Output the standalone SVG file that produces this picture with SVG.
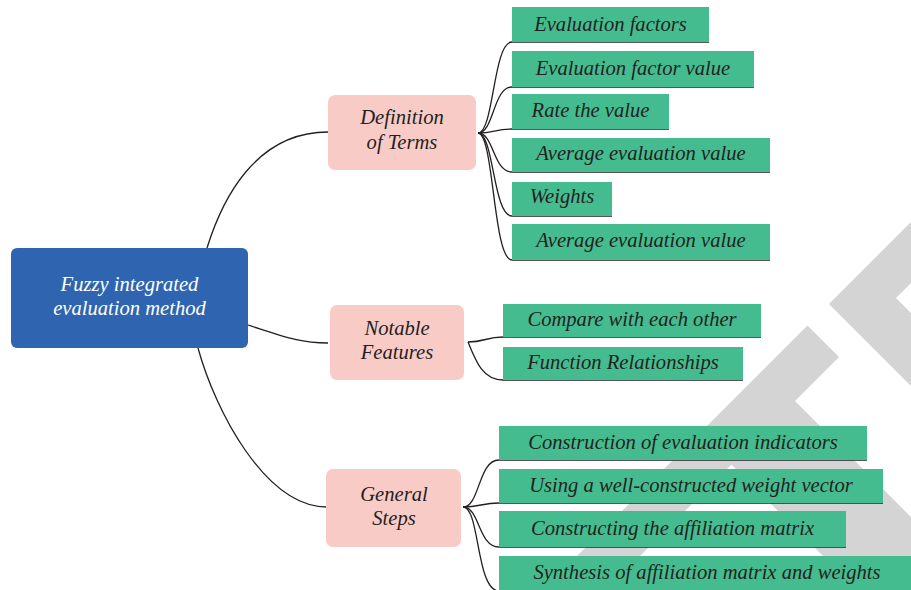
<svg xmlns="http://www.w3.org/2000/svg" width="911" height="590" viewBox="0 0 911 590">
<style>
.wm{fill:#d4d4d4}
.root{fill:#2f65b0}
.mid{fill:#f9cbc7}
.leaf{fill:#44bc8f}
.t{font-family:"Liberation Serif","DejaVu Serif",serif;font-style:italic;font-size:20.6px;fill:#231f20;text-anchor:middle}
.tw{fill:#ffffff}
#connectors path{fill:none;stroke:#231f20;stroke-width:1.3}
</style>
<rect width="911" height="590" fill="#ffffff"/>
<g id="watermark">
<polygon class="wm" points="807.5,325.5 839,357 795,401 911,517 911,590 857,590 731.5,464.5 606,590 543,590"/>
<polygon class="wm" points="911,222 829,304 911,386 911,313 896,298 911,283"/>
</g>
<g id="connectors">
<path d="M207,248 C222,200 255,132 328,132"/>
<path d="M248,325 C285,337 300,343 328,343"/>
<path d="M198,348 C215,410 265,507 327,507"/>
<path d="M478,133 C494,133 493,42 512,42 H709"/>
<path d="M478,133 C494,133 493,87 512,87 H754"/>
<path d="M478,133 C494,133 495,129 512,129 H669"/>
<path d="M478,133 C494,133 493,172 512,172 H770"/>
<path d="M478,133 C494,133 493,216 512,216 H612"/>
<path d="M478,133 C494,133 493,260 512,260 H770"/>
<path d="M468,342 C485,342 486,337 503,337 H761"/>
<path d="M468,342 C476,362 483,380 503,380 H743"/>
<path d="M463,507 C480,507 478,460 499,460 H867"/>
<path d="M463,507 C480,507 482,503 499,503 H883"/>
<path d="M463,507 C480,507 478,547 499,547 H846"/>
<path d="M463,507 C480,507 476,591 499,591 H911"/>
</g>
<g id="root">
<rect class="root" x="11" y="248" width="237" height="100" rx="6"/>
<text class="t tw" x="129.5" y="291">Fuzzy integrated</text>
<text class="t tw" x="129.5" y="315">evaluation method</text>
</g>
<g id="definition">
<rect class="mid" x="328" y="95" width="148" height="75" rx="7"/>
<text class="t" x="402" y="124">Definition</text>
<text class="t" x="402" y="149">of Terms</text>
</g>
<g id="notable">
<rect class="mid" x="330" y="305" width="134" height="75" rx="7"/>
<text class="t" x="397" y="335">Notable</text>
<text class="t" x="397" y="359">Features</text>
</g>
<g id="general">
<rect class="mid" x="326" y="469" width="135" height="78" rx="7"/>
<text class="t" x="394" y="501">General</text>
<text class="t" x="394" y="525">Steps</text>
</g>
<g id="leaf-evaluation-factors">
<rect class="leaf" x="512" y="7" width="197" height="35"/>
<text class="t" x="610.5" y="31">Evaluation factors</text>
</g>
<g id="leaf-evaluation-factor-value">
<rect class="leaf" x="512" y="51" width="242" height="36"/>
<text class="t" x="633" y="75">Evaluation factor value</text>
</g>
<g id="leaf-rate-the-value">
<rect class="leaf" x="512" y="94" width="157" height="35"/>
<text class="t" x="590.5" y="117">Rate the value</text>
</g>
<g id="leaf-average-1">
<rect class="leaf" x="512" y="138" width="258" height="34"/>
<text class="t" x="641" y="160">Average evaluation value</text>
</g>
<g id="leaf-weights">
<rect class="leaf" x="512" y="182" width="100" height="34"/>
<text class="t" x="562" y="203">Weights</text>
</g>
<g id="leaf-average-2">
<rect class="leaf" x="512" y="224" width="258" height="36"/>
<text class="t" x="641" y="247">Average evaluation value</text>
</g>
<g id="leaf-compare">
<rect class="leaf" x="503" y="304" width="258" height="33"/>
<text class="t" x="632" y="326">Compare with each other</text>
</g>
<g id="leaf-function">
<rect class="leaf" x="503" y="347" width="240" height="33"/>
<text class="t" x="623" y="369">Function Relationships</text>
</g>
<g id="leaf-construction">
<rect class="leaf" x="499" y="426" width="368" height="34"/>
<text class="t" x="683" y="449">Construction of evaluation indicators</text>
</g>
<g id="leaf-using">
<rect class="leaf" x="499" y="469" width="384" height="34"/>
<text class="t" x="691" y="492">Using a well-constructed weight vector</text>
</g>
<g id="leaf-constructing">
<rect class="leaf" x="499" y="511" width="347" height="36"/>
<text class="t" x="672.5" y="535">Constructing the affiliation matrix</text>
</g>
<g id="leaf-synthesis">
<rect class="leaf" x="499" y="556" width="412" height="35"/>
<text class="t" x="707" y="579">Synthesis of affiliation matrix and weights</text>
</g>
</svg>
